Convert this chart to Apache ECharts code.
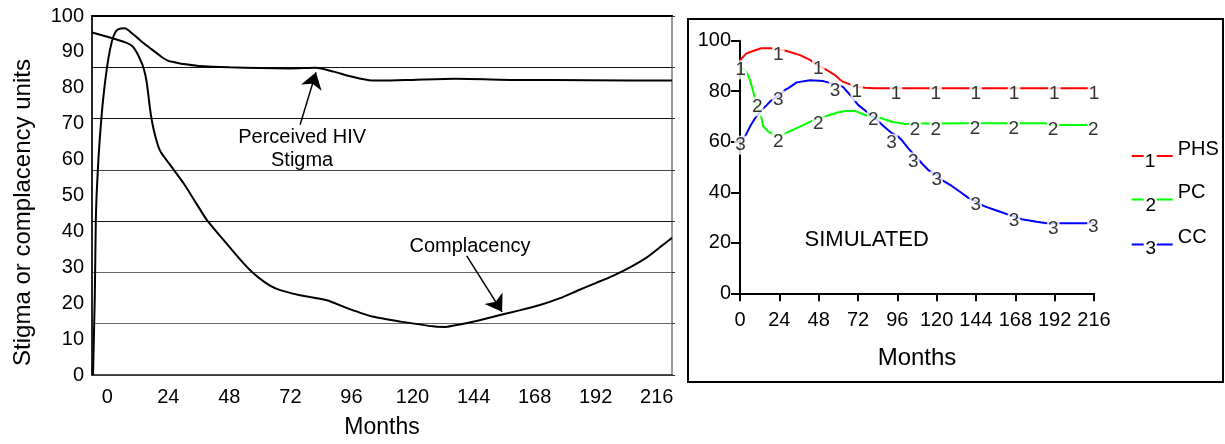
<!DOCTYPE html>
<html>
<head>
<meta charset="utf-8">
<title>Perceived HIV stigma and complacency</title>
<script src="https://cdn.jsdelivr.net/npm/echarts@6/dist/echarts.min.js"></script>
<style>
  html, body { margin: 0; padding: 0; background: #fff; }
  #main { width: 1225px; height: 444px; }
</style>
</head>
<body>
<div id="main"></div>
<script>
// left panel (observed), x ticks every 12 months, labelled every 24
const monthTicks = ['0', '12', '24', '36', '48', '60', '72', '84', '96', '108', '120',
  '132', '144', '156', '168', '180', '192', '204', '216'];

const stigmaMonths = [-5.6, -4.9, -4.5, -4.2, -3.4, -2.6, -1.6, -0.2, 1.1, 2.4, 3.7, 5.3, 7.0, 8.9,
  13, 17.5, 21, 24, 26.6, 30, 36, 48, 60, 72, 82, 89, 95.5, 104, 108, 120, 137, 160, 190, 222];
const stigmaValues = [0, 22, 43, 50, 61, 69, 77, 85.2, 90.7, 94.3, 96, 96.5, 96.6, 95.7,
  93.2, 90.7, 88.8, 87.5, 87.1, 86.6, 86.1, 85.7, 85.5, 85.4, 85.6, 84.5, 83.2, 82.0, 82.0, 82.2, 82.5, 82.2, 82.1, 82.0];

const complacencyMonths = [-6, 1, 7.6, 10, 11.6, 13, 14.2, 15.5, 16.8, 18.1, 20, 21.2, 26, 30.2, 35,
  39.1, 45, 52.2, 57, 62, 66.6, 75.8, 86.3, 94.8, 104.6, 116, 128.8, 133, 138, 146, 154.4, 162,
  170.1, 178, 185.2, 192, 199, 206, 212, 218, 222];
const complacencyValues = [95.4, 94.0, 92.5, 91.5, 89.8, 87.8, 85.7, 81.6, 74.2, 68.8, 63.8, 61.9, 57.3, 53.2, 47.8,
  43.2, 38.2, 32.2, 28.6, 25.8, 24.0, 22.2, 20.8, 18.5, 16.2, 14.8, 13.5, 13.4, 14.0, 15.2, 16.7, 18.0,
  19.5, 21.4, 23.6, 25.6, 27.7, 30.2, 32.7, 36.0, 38.2];

// right panel (simulated)
const phsMonths = [0, 1, 4, 8, 13, 19, 24, 28.5, 36.6, 42.7, 48, 52.9, 58, 62, 68, 72, 76.3, 82, 96, 120, 144, 168, 192, 216];
const phsValues = [92, 93, 95, 95.9, 97, 97, 96.5, 95.9, 94.3, 92.4, 90, 88.4, 86.4, 84, 82.5, 81.8, 81.4, 81.2, 81.2, 81.2, 81.2, 81.2, 81.2, 81.2];

const pcMonths = [1, 4, 6.1, 8.1, 10, 13.2, 14.2, 17.3, 21.4, 24, 27.5, 36.6, 42.7, 48, 52.9, 59, 64, 70,
  76.3, 81, 86.4, 92.5, 100.7, 110, 144, 186, 190, 216];
const pcValues = [89.5, 87.7, 84.4, 79.8, 75, 69.3, 66, 64, 62.7, 62.6, 63.3, 66, 67.9, 69.5, 70.2, 71.5, 72.2, 72.2,
  70.6, 69.8, 69.3, 67.9, 67, 67.2, 67.3, 67.3, 66.6, 66.6];

const ccMonths = [0, 3, 6.1, 9.2, 13.2, 16.3, 18.3, 24, 27.5, 29.5, 34.6, 42.7, 50.8, 55.9, 60, 63, 68.1, 72.2,
  77.3, 82.4, 87.5, 92.5, 96.6, 98.6, 102.7, 106, 110.9, 114.9, 120, 124, 129.2, 134.2, 139.3, 144, 148.5,
  155.6, 162.7, 168, 171.9, 181, 187.1, 192, 195.2, 216];
const ccValues = [61, 62, 66, 69.3, 72.6, 74.5, 75.9, 78.5, 80.5, 81.2, 83.5, 84.3, 84, 83.1, 82.5, 81.6, 77.8, 74.5,
  71.9, 69.3, 66.2, 63.5, 62, 60.7, 57.4, 55, 51.5, 48.8, 47, 44.5, 42.5, 40.2, 37.8, 36.5, 34.6,
  33.0, 31.4, 30.3, 29.3, 28.3, 27.7, 27.7, 27.7, 27.7];

// where the curve numbers sit on each simulated line
const phsMarkMonths = [0.5, 23.4, 47.8, 71.2, 95.2, 119.4, 143.8, 167.2, 191.8, 216];
const phsMarkValues = [90.8, 96.7, 91.4, 82.2, 81.2, 81.2, 81.2, 81.2, 81.2, 81.2];
const pcMarkMonths = [10.5, 23.4, 47.8, 81.3, 106.8, 119.4, 143.4, 167, 191, 215.6];
const pcMarkValues = [76.2, 62.4, 69.4, 71, 67.3, 67.3, 67.5, 67.5, 67.0, 67.0];
const ccMarkMonths = [0.3, 23.4, 58, 92.5, 105.8, 120, 143.8, 167.2, 191.2, 215.6];
const ccMarkValues = [61, 78.9, 82.6, 61.8, 54.4, 47.2, 37.3, 31, 28.1, 28.7];

const seriesNames = ['PHS', 'PC', 'CC'];
const seriesDigits = ['1', '2', '3'];

function zip(xs, ys) {
  return xs.map((x, i) => [x, ys[i]]);
}

const FONT = '"Liberation Sans", Arial, sans-serif';
const colors = ['#ff0000', '#00ff00', '#0000ff'];

const chart = echarts.init(document.getElementById('main'), null, { renderer: 'canvas' });

function digitSeries(idx, months, values) {
  return {
    name: seriesNames[idx] + '-marks',
    type: 'scatter',
    xAxisIndex: 2,
    yAxisIndex: 2,
    symbolSize: 0,
    silent: true,
    z: 5,
    data: zip(months, values),
    label: {
      show: true,
      position: 'inside',
      formatter: seriesDigits[idx],
      offset: [0, 6],
      color: '#000',
      fontSize: 19,
      fontFamily: FONT,
      backgroundColor: '#fff',
      padding: [0, 1]
    }
  };
}

function simLine(idx, months, values) {
  return {
    name: seriesNames[idx],
    type: 'line',
    xAxisIndex: 2,
    yAxisIndex: 2,
    showSymbol: false,
    silent: true,
    data: zip(months, values),
    itemStyle: { color: colors[idx] },
    lineStyle: { color: colors[idx], width: 2 }
  };
}

// key line sits 7px under the text middle, with a gap for the digit
function legendFor(idx, top) {
  return {
    data: [seriesNames[idx]],
    left: 1131.7,
    top: top,
    padding: 0,
    selectedMode: false,
    icon: 'path://M0,0L0.05,0L0,0.05Z M0,14H12V16H0Z M25,14H41V16H25Z',
    itemWidth: 41,
    itemHeight: 16,
    textStyle: { fontSize: 20, color: '#000', fontFamily: FONT }
  };
}

const option = {
  animation: false,
  backgroundColor: '#fff',
  textStyle: { fontFamily: FONT },
  grid: [
    { left: 92, top: 16, width: 580, height: 365, show: true, borderColor: '#999', borderWidth: 2 },
    { left: 740, top: 40.7, width: 354, height: 252.6 }
  ],
  legend: [legendFor(0, 139), legendFor(1, 182.5), legendFor(2, 227.5)],
  xAxis: [
    {
      type: 'category', gridIndex: 0, data: monthTicks, boundaryGap: true,
      name: 'Months', nameLocation: 'middle', nameGap: 41,
      nameTextStyle: { fontSize: 23, color: '#000' },
      axisLine: { onZero: false, lineStyle: { color: '#333', width: 1.5 } },
      axisTick: { interval: 0, length: 4, lineStyle: { color: '#666' } },
      axisLabel: { interval: 1, fontSize: 20, color: '#000', margin: 12 },
      splitLine: { show: false }
    },
    {
      // data scale of the left panel, also draws the top frame line
      type: 'value', gridIndex: 0, min: -6, max: 222, position: 'top',
      axisLine: { show: true, onZero: false, lineStyle: { color: '#000', width: 2 } },
      axisTick: { show: false }, axisLabel: { show: false }, splitLine: { show: false }
    },
    {
      type: 'value', gridIndex: 1, min: 0, max: 216, interval: 24,
      name: 'Months', nameLocation: 'middle', nameGap: 53,
      nameTextStyle: { fontSize: 24, color: '#000' },
      axisLine: { lineStyle: { color: '#000', width: 2 } },
      axisTick: { length: 8, lineStyle: { color: '#000', width: 2 } },
      axisLabel: { fontSize: 20, color: '#000', margin: 17 },
      splitLine: { show: false }
    },
    {
      // inner half of the crossing ticks
      type: 'value', gridIndex: 1, min: 0, max: 216, interval: 24,
      axisLine: { show: false },
      axisTick: { inside: true, length: 5, lineStyle: { color: '#000', width: 2 } },
      axisLabel: { show: false }, splitLine: { show: false }
    }
  ],
  yAxis: [
    {
      type: 'value', gridIndex: 0, min: 0, max: 100, interval: 10,
      name: 'Stigma or complacency units', nameLocation: 'middle', nameGap: 57,
      nameTextStyle: { fontSize: 24, color: '#000', padding: [0, 34, 0, 0] },
      axisLine: { show: true, onZero: false, lineStyle: { color: '#000', width: 1.5 } },
      axisTick: { show: false },
      axisLabel: { fontSize: 20, color: '#000', margin: 8, padding: [7, 0, 0, 0] },
      splitLine: { show: false }
    },
    {
      // gridlines of the left panel do not follow the labels
      type: 'value', gridIndex: 0, min: 0, max: 100, interval: 100 / 7,
      axisLine: { show: false, onZero: false },
      axisTick: { show: true, length: 3, lineStyle: { color: '#333' } },
      axisLabel: { show: false },
      splitLine: {
        show: true,
        lineStyle: { width: 1, color: ['#555', '#666', '#666', '#111', '#444', '#111', '#111', '#111'] }
      }
    },
    {
      type: 'value', gridIndex: 1, min: 0, max: 100, interval: 20,
      axisLine: { show: true, lineStyle: { color: '#000', width: 2 } },
      axisTick: { show: true, length: 9, lineStyle: { color: '#000', width: 2 } },
      axisLabel: { fontSize: 20, color: '#000', margin: 9 },
      splitLine: { show: false }
    },
    {
      type: 'value', gridIndex: 1, min: 0, max: 100, interval: 20,
      axisLine: { show: false },
      axisTick: { show: true, inside: true, length: 4, lineStyle: { color: '#000', width: 2 } },
      axisLabel: { show: false }, splitLine: { show: false }
    }
  ],
  series: [
    {
      name: 'Perceived HIV Stigma',
      type: 'line',
      xAxisIndex: 1,
      yAxisIndex: 0,
      showSymbol: false,
      silent: true,
      smooth: 0.2,
      data: zip(stigmaMonths, stigmaValues),
      lineStyle: { color: '#000', width: 2 },
      itemStyle: { color: '#000' },
      markLine: {
        silent: true,
        symbol: ['none', 'arrow'],
        symbolSize: 16,
        label: { show: false },
        lineStyle: { color: '#000', width: 1.5, type: 'solid' },
        data: [[{ coord: [75.8, 69.7] }, { coord: [82.05, 84.3] }]]
      },
      markPoint: {
        silent: true,
        symbolSize: 0,
        itemStyle: { color: 'transparent' },
        label: { show: true, position: 'inside', color: '#000', fontSize: 20, lineHeight: 23 },
        data: [{ coord: [76.6, 62.9], label: { formatter: 'Perceived HIV\nStigma' } }]
      }
    },
    {
      name: 'Complacency',
      type: 'line',
      xAxisIndex: 1,
      yAxisIndex: 0,
      showSymbol: false,
      silent: true,
      smooth: 0.2,
      data: zip(complacencyMonths, complacencyValues),
      lineStyle: { color: '#000', width: 2 },
      itemStyle: { color: '#000' },
      markLine: {
        silent: true,
        symbol: ['none', 'arrow'],
        symbolSize: 16,
        label: { show: false },
        lineStyle: { color: '#000', width: 1.5, type: 'solid' },
        data: [[{ coord: [141.3, 33.2] }, { coord: [155.2, 17.6] }]]
      },
      markPoint: {
        silent: true,
        symbolSize: 0,
        itemStyle: { color: 'transparent' },
        label: { show: true, position: 'inside', color: '#000', fontSize: 20 },
        data: [{ coord: [142.6, 35.7], label: { formatter: 'Complacency' } }]
      }
    },
    Object.assign(simLine(0, phsMonths, phsValues), {
      markPoint: {
        silent: true,
        symbolSize: 0,
        itemStyle: { color: 'transparent' },
        label: { show: true, position: 'inside', color: '#000', fontSize: 22 },
        data: [{ coord: [77.3, 21.1], label: { formatter: 'SIMULATED' } }]
      }
    }),
    simLine(1, pcMonths, pcValues),
    simLine(2, ccMonths, ccValues),
    digitSeries(0, phsMarkMonths, phsMarkValues),
    digitSeries(1, pcMarkMonths, pcMarkValues),
    digitSeries(2, ccMarkMonths, ccMarkValues)
  ],
  graphic: [
    // frame around the simulated panel
    {
      type: 'rect', silent: true,
      shape: { x: 688, y: 19, width: 535, height: 363 },
      style: { fill: 'none', stroke: '#000', lineWidth: 2 }
    },
    // curve numbers inside the legend keys
    { type: 'text', silent: true, x: 1150, y: 161.7, style: { text: '1', font: '19px ' + FONT, fill: '#000', align: 'center', verticalAlign: 'middle' } },
    { type: 'text', silent: true, x: 1150.7, y: 206, style: { text: '2', font: '19px ' + FONT, fill: '#000', align: 'center', verticalAlign: 'middle' } },
    { type: 'text', silent: true, x: 1150.7, y: 248.3, style: { text: '3', font: '19px ' + FONT, fill: '#000', align: 'center', verticalAlign: 'middle' } }
  ]
};

chart.setOption(option);
</script>
</body>
</html>
